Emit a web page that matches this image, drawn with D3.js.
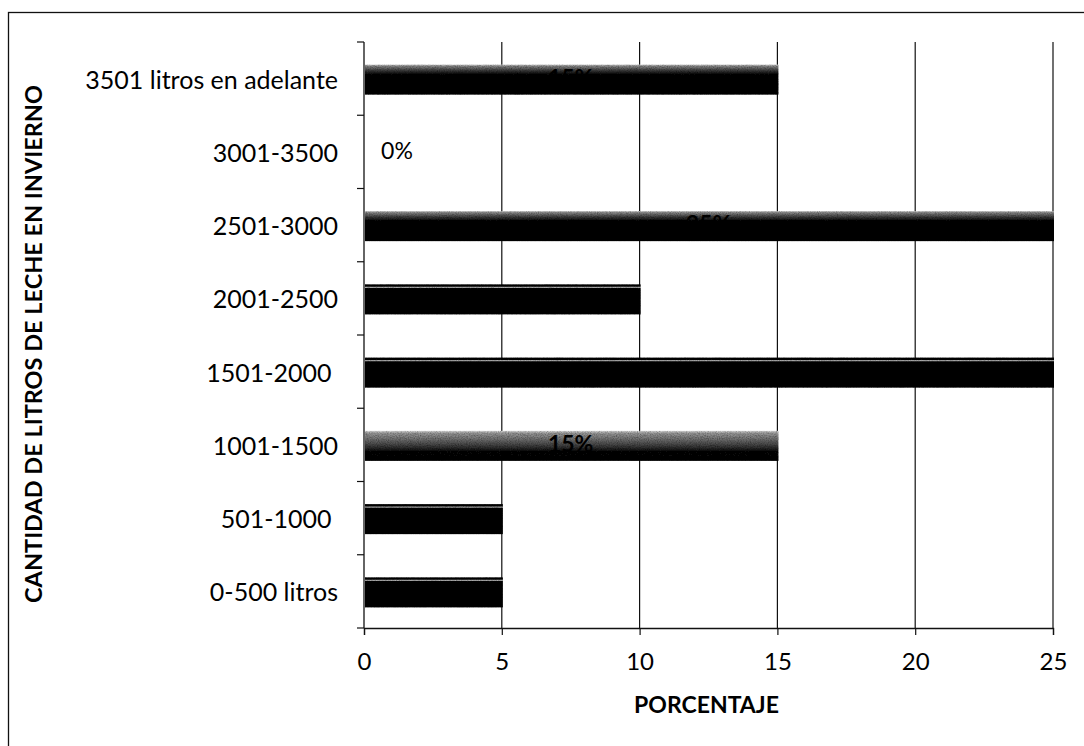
<!DOCTYPE html>
<html>
<head>
<meta charset="utf-8">
<script src="https://cdn.jsdelivr.net/npm/d3@7"></script>
<style>
  html, body { margin: 0; padding: 0; background: #fff; }
  svg { display: block; font-family: Lato, "Open Sans", sans-serif; }
</style>
</head>
<body>
<svg id="chart" width="1084" height="746"></svg>
<script>
// Rangos de producción diaria de leche en invierno (de menor a mayor)
const categories = ["0-500 litros", "501-1000 ", "1001-1500", "1501-2000 ", "2001-2500", "2501-3000", "3001-3500", "3501 litros en adelante"];
const percentages = [5, 5, 15, 25, 10, 25, 0, 15];
const valueLabels = ["5%", "5%", "15%", "25%", "10%", "25%", "0%", "15%"];
const xTicks = [0, 5, 10, 15, 20, 25];

const svg = d3.select("#chart");
const margin = { left: 364, right: 31, top: 42, bottom: 118 };
const W = 1084, H = 746;
const plotW = W - margin.left - margin.right;
const plotH = H - margin.top - margin.bottom;

// Marco exterior del gráfico
svg.append("rect")
  .attr("x", 8.5).attr("y", 12.5)
  .attr("width", W + 20).attr("height", H + 20)
  .attr("fill", "none").attr("stroke", "#111").attr("stroke-width", 1.3);

const defs = svg.append("defs");
function barGradient(id, stops) {
  const grad = defs.append("linearGradient").attr("id", id)
    .attr("x1", 0).attr("y1", 0).attr("x2", 0).attr("y2", 1);
  stops.forEach(([o, c]) => grad.append("stop").attr("offset", o).attr("stop-color", c));
}
// Tres acabados de barra: franja gris superior, gris claro y negro con filo claro
barGradient("barDark", [[0, "#d0d0d0"], [0.05, "#8a8a8a"], [0.2, "#3a3a3a"], [0.34, "#060606"], [1, "#000"]]);
barGradient("barLight", [[0, "#e0e0e0"], [0.08, "#9a9a9a"], [0.45, "#4a4a4a"], [0.7, "#0c0c0c"], [1, "#000"]]);
barGradient("barSolid", [[0, "#000"], [0.06, "#000"], [0.1, "#bdbdbd"], [0.14, "#000"], [1, "#000"]]);
const barStyle = {
  "3501 litros en adelante": "barDark",
  "2501-3000": "barDark",
  "1001-1500": "barLight"
};

// Grano fino sobre las barras
const grain = defs.append("filter").attr("id", "grain").attr("x", 0).attr("y", 0).attr("width", 1).attr("height", 1);
grain.append("feTurbulence").attr("type", "fractalNoise").attr("baseFrequency", 0.9).attr("numOctaves", 2).attr("seed", 3).attr("result", "noise");
grain.append("feColorMatrix").attr("in", "noise").attr("type", "matrix")
  .attr("values", "0 0 0 0 0  0 0 0 0 0  0 0 0 0 0  0 0 0 -1.1 0.75").attr("result", "dots");
grain.append("feComposite").attr("in", "dots").attr("in2", "SourceGraphic").attr("operator", "in").attr("result", "clipped");
const merge = grain.append("feMerge");
merge.append("feMergeNode").attr("in", "SourceGraphic");
merge.append("feMergeNode").attr("in", "clipped");

const g = svg.append("g").attr("transform", `translate(${margin.left},${margin.top})`);

const x = d3.scaleLinear().domain([0, 25]).range([0, plotW]);
const y = d3.scaleBand().domain(categories.slice().reverse()).range([0, plotH]).padding(0);

// Líneas verticales de la cuadrícula
g.append("g").selectAll("line").data(xTicks.slice(1)).join("line")
  .attr("x1", d => x(d)).attr("x2", d => x(d))
  .attr("y1", 0).attr("y2", plotH)
  .attr("stroke", "#111").attr("stroke-width", 1.2);

// Eje X
const xAxis = g.append("g").attr("transform", `translate(0,${plotH})`)
  .call(d3.axisBottom(x).tickValues(xTicks).tickSize(7).tickPadding(18));
xAxis.select(".domain").attr("stroke", "#111").attr("stroke-width", 1.3);
xAxis.selectAll(".tick line").attr("stroke", "#111").attr("stroke-width", 1.2);
xAxis.selectAll("text").attr("font-size", 24).attr("fill", "#000").attr("font-family", "Lato");

// Eje Y con marcas entre categorías
g.append("line").attr("x1", 0).attr("x2", 0).attr("y1", 0).attr("y2", plotH)
  .attr("stroke", "#111").attr("stroke-width", 1.3);
const bounds = d3.range(categories.length + 1).map(i => i * y.step());
g.append("g").selectAll("line").data(bounds).join("line")
  .attr("x1", -7).attr("x2", 0).attr("y1", d => d).attr("y2", d => d)
  .attr("stroke", "#111").attr("stroke-width", 1.2);
g.append("g").selectAll("text").data(categories).join("text")
  .attr("x", -26).attr("y", d => y(d) + y.bandwidth() / 2)
  .attr("text-anchor", "end").attr("dominant-baseline", "central")
  .attr("font-size", 25).attr("fill", "#000")
  .attr("xml:space", "preserve")
  .text(d => d);

// Barras
const barH = 30;
const rows = categories.map((c, i) => ({ c, v: percentages[i], label: valueLabels[i] }));
g.append("g").selectAll("rect").data(rows.filter(d => d.v > 0)).join("rect")
  .attr("x", x(0) + 1)
  .attr("y", d => y(d.c) + y.bandwidth() / 2 - barH / 2 + 1)
  .attr("width", d => x(d.v) - x(0))
  .attr("height", barH)
  .attr("fill", d => `url(#${barStyle[d.c] || "barSolid"})`)
  .attr("filter", "url(#grain)");

// Etiquetas de porcentaje
g.append("g").selectAll("text").data(rows).join("text")
  .attr("x", d => Math.max(x(d.v / 2), x(0) + 33))
  .attr("y", d => y(d.c) + y.bandwidth() / 2 - 2)
  .attr("text-anchor", "middle").attr("dominant-baseline", "central")
  .attr("font-size", 23)
  .attr("font-weight", d => d.v > 0 ? 700 : 400)
  .attr("fill", "#000")
  .text(d => d.label);

// Títulos de los ejes
svg.append("text")
  .attr("x", margin.left + plotW / 2 - 2).attr("y", 713)
  .attr("text-anchor", "middle").attr("font-size", 23).attr("font-weight", 700)
  .text("PORCENTAJE");
svg.append("text")
  .attr("transform", `translate(42,${margin.top + plotH / 2 + 9}) rotate(-90)`)
  .attr("text-anchor", "middle").attr("font-size", 23.5).attr("font-weight", 700)
  .text("CANTIDAD DE LITROS DE LECHE EN INVIERNO");
</script>
</body>
</html>
